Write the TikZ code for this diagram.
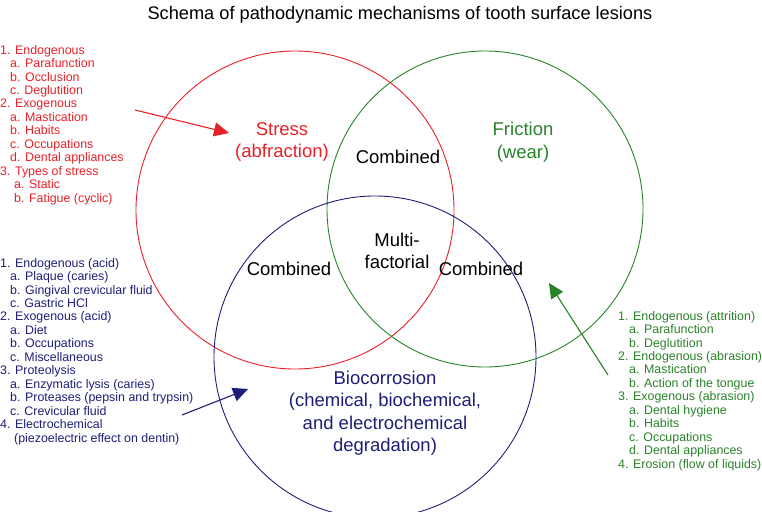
\documentclass[tikz,border=0pt]{standalone}
\usepackage{fontspec}
\setmainfont{Liberation Sans}
\usepackage{tikz}
\usetikzlibrary{arrows.meta,positioning}
\usepackage{xcolor}
\definecolor{stressred}{RGB}{232,32,40}
\definecolor{weargreen}{RGB}{40,130,40}
\definecolor{corrblue}{RGB}{30,30,120}

\begin{document}
\begin{tikzpicture}[
    x=1pt, y=-1pt,
    circ/.style={line width=0.9pt, draw=#1},
    big/.style={font=\fontsize{18.5}{22.5}\selectfont, align=center, inner sep=0pt},
    lst/.style={font=\fontsize{12.4}{13.45}\selectfont, align=left, anchor=north west, inner sep=0pt, text=#1},
    arr/.style={-{Triangle[length=15pt,width=14pt]}, line width=1.1pt, draw=#1}
]
    \useasboundingbox (0,0) rectangle (762,511);

    % Title
    \node[font=\fontsize{18.2}{22}\selectfont] (title) at (400,15) {Schema of pathodynamic mechanisms of tooth surface lesions};

    % Circles
    \coordinate (cstress) at (295,210);
    \coordinate (cwear)   at (485,209);
    \coordinate (ccorr)   at (375,357);
    \draw[circ=stressred] (cstress) circle[radius=159];
    \draw[circ=weargreen] (cwear) circle[radius=158];
    \draw[circ=corrblue]  (ccorr) circle[radius=161];

    % Labels in the circles
    \node[big, text=stressred] (stress) at (282,142) {Stress\\(abfraction)};
    \node[big, text=weargreen] (wear)   at (523,142) {Friction\\(wear)};
    \node[big] (combtop)   at (398,157) {Combined};
    \node[big] (multi)     at (397,251) {Multi-\\factorial};
    \node[big] (combleft)  at (289,269) {Combined};
    \node[big] (combright) at (481,269) {Combined};
    \node[big, text=corrblue] (corr) at (385,413)
        {Biocorrosion\\(chemical, biochemical,\\and electrochemical\\degradation)};

    % Lists
    \node[lst=stressred] (stresslist) at (0,45) {%
        1. Endogenous\\
        \hspace*{10pt}a. Parafunction\\
        \hspace*{10pt}b. Occlusion\\
        \hspace*{10pt}c. Deglutition\\
        2. Exogenous\\
        \hspace*{10pt}a. Mastication\\
        \hspace*{10pt}b. Habits\\
        \hspace*{10pt}c. Occupations\\
        \hspace*{10pt}d. Dental appliances\\
        3. Types of stress\\
        \hspace*{14pt}a. Static\\
        \hspace*{14pt}b. Fatigue (cyclic)};
    \node[lst=corrblue] (corrlist) at (0,258) {%
        1. Endogenous (acid)\\
        \hspace*{10pt}a. Plaque (caries)\\
        \hspace*{10pt}b. Gingival crevicular fluid\\
        \hspace*{10pt}c. Gastric HCl\\
        2. Exogenous (acid)\\
        \hspace*{10pt}a. Diet\\
        \hspace*{10pt}b. Occupations\\
        \hspace*{10pt}c. Miscellaneous\\
        3. Proteolysis\\
        \hspace*{10pt}a. Enzymatic lysis (caries)\\
        \hspace*{10pt}b. Proteases (pepsin and trypsin)\\
        \hspace*{10pt}c. Crevicular fluid\\
        4. Electrochemical\\
        \hspace*{14pt}(piezoelectric effect on dentin)};
    \node[lst=weargreen] (wearlist) at (618,311) {%
        1. Endogenous (attrition)\\
        \hspace*{11pt}a. Parafunction\\
        \hspace*{11pt}b. Deglutition\\
        2. Endogenous (abrasion)\\
        \hspace*{11pt}a. Mastication\\
        \hspace*{11pt}b. Action of the tongue\\
        3. Exogenous (abrasion)\\
        \hspace*{11pt}a. Dental hygiene\\
        \hspace*{11pt}b. Habits\\
        \hspace*{11pt}c. Occupations\\
        \hspace*{11pt}d. Dental appliances\\
        4. Erosion (flow of liquids)};

    % Arrows
    \coordinate (stressfrom) at (135,110);
    \coordinate (stressto)   at (229,133);
    \coordinate (wearfrom)   at (608,375);
    \coordinate (wearto)     at (549,283);
    \coordinate (corrfrom)   at (182,415);
    \coordinate (corrto)     at (248,389);
    \draw[arr=stressred] (stressfrom) -- (stressto);
    \draw[arr=weargreen] (wearfrom) -- (wearto);
    \draw[arr=corrblue]  (corrfrom) -- (corrto);
\end{tikzpicture}
\end{document}
